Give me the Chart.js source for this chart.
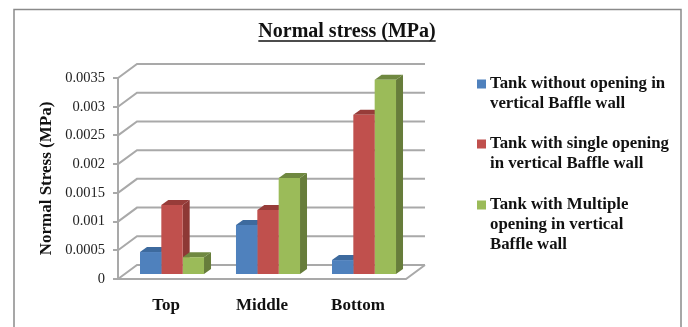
<!DOCTYPE html>
<html>
<head>
<meta charset="utf-8">
<style>
  html, body { margin: 0; padding: 0; background: #fff; }
  canvas { display: block; }
</style>
<script src="https://cdn.jsdelivr.net/npm/chart.js@4"></script>
</head>
<body>
<canvas id="stressChart" width="688" height="327"></canvas>
<script>
const categories = ["Top", "Middle", "Bottom"];
const withoutOpening = [0.0004, 0.00087, 0.00026];
const singleOpening = [0.00122, 0.00113, 0.00279];
const multipleOpening = [0.00031, 0.00169, 0.0034];
const withoutOpeningLabel = ["Tank without opening in", "vertical Baffle wall"];
const singleOpeningLabel = ["Tank with single opening", "in vertical Baffle wall"];
const multipleOpeningLabel = ["Tank with Multiple", "opening in vertical", "Baffle wall"];

const SERIF = '"Liberation Serif", "Times New Roman", serif';
const GRID = "#a9a9a9";
// wall depth of the fake 3D box, and the shift/depth of the bars inside it
const WALL = { x: 19, y: -14 };
const BAR_SHIFT = { x: 6, y: -4 };
const BAR_DEPTH = { x: 7, y: -5 };
const SIDE_COLORS = ["#3a6493", "#8e3835", "#677d3b"];
const TOP_COLORS = ["#3d6a9e", "#973c39", "#6f8840"];

function poly(ctx, pts, fill) {
  ctx.beginPath();
  pts.forEach((p, i) => (i ? ctx.lineTo(p[0], p[1]) : ctx.moveTo(p[0], p[1])));
  ctx.closePath();
  ctx.fillStyle = fill;
  ctx.fill();
}

const fake3d = {
  id: "fake3d",
  afterLayout(chart) {
    // centre the title over the whole frame, not just the plot box
    chart.titleBlock.left = 0;
    chart.titleBlock.right = 694;
  },
  beforeDraw(chart) {
    const { ctx, chartArea: a } = chart;
    // chart frame, open at the bottom like the cropped original
    ctx.save();
    ctx.strokeStyle = "#8a8a8a";
    ctx.lineWidth = 1.5;
    ctx.beginPath();
    ctx.moveTo(14, 327);
    ctx.lineTo(14, 9.5);
    ctx.lineTo(681, 9.5);
    ctx.lineTo(681, 327);
    ctx.stroke();

    // back wall lines
    ctx.strokeStyle = GRID;
    ctx.lineWidth = 2;
    chart.scales.y.ticks.forEach((t) => {
      const y = chart.scales.y.getPixelForValue(t.value);
      ctx.beginPath();
      ctx.moveTo(a.left, y);
      ctx.lineTo(a.left + WALL.x, y + WALL.y);
      ctx.lineTo(a.right + WALL.x, y + WALL.y);
      ctx.stroke();
    });
    // floor
    ctx.beginPath();
    ctx.moveTo(a.left, a.bottom);
    ctx.lineTo(a.right, a.bottom);
    ctx.lineTo(a.right + WALL.x, a.bottom + WALL.y);
    ctx.stroke();
    ctx.restore();
  },
  beforeDatasetsDraw(chart) {
    const ctx = chart.ctx;
    ctx.save();
    ctx.translate(BAR_SHIFT.x, BAR_SHIFT.y);
    // depth faces go first, left series to right, so every front face covers them
    chart.data.datasets.forEach((ds, i) => {
      chart.getDatasetMeta(i).data.forEach((bar) => {
        const l = bar.x - bar.width / 2, r = bar.x + bar.width / 2;
        const dx = BAR_DEPTH.x, dy = BAR_DEPTH.y;
        poly(ctx, [[r, bar.y], [r + dx, bar.y + dy], [r + dx, bar.base + dy], [r, bar.base]], SIDE_COLORS[i]);
        poly(ctx, [[l, bar.y], [l + dx, bar.y + dy], [r + dx, bar.y + dy], [r, bar.y]], TOP_COLORS[i]);
      });
    });
  },
  afterDatasetsDraw(chart) {
    chart.ctx.restore();
  },
  afterDraw(chart) {
    const ctx = chart.ctx;
    ctx.save();
    // title underline
    ctx.font = "bold 20px " + SERIF;
    const w = ctx.measureText(chart.options.plugins.title.text).width;
    ctx.strokeStyle = "#111";
    ctx.lineWidth = 1.5;
    ctx.beginPath();
    ctx.moveTo(347 - w / 2, 41);
    ctx.lineTo(347 + w / 2, 41);
    ctx.stroke();

    // legend with wrapped entries
    ctx.font = "bold 16.8px " + SERIF;
    ctx.textBaseline = "middle";
    const rowY = [84, 144, 205];
    chart.data.datasets.forEach((ds, i) => {
      ctx.fillStyle = ds.backgroundColor;
      ctx.fillRect(477, rowY[i] - 4.5, 9, 9);
      ctx.fillStyle = "#111";
      ds.label.forEach((line, j) => ctx.fillText(line, 490, rowY[i] + j * 20));
    });
    ctx.restore();
  },
};

new Chart(document.getElementById("stressChart"), {
  type: "bar",
  plugins: [fake3d],
  data: {
    labels: categories,
    datasets: [
      { label: withoutOpeningLabel, data: withoutOpening, backgroundColor: "#4f81bd" },
      { label: singleOpeningLabel, data: singleOpening, backgroundColor: "#c0504d" },
      { label: multipleOpeningLabel, data: multipleOpening, backgroundColor: "#9bbb59" },
    ],
  },
  options: {
    responsive: false,
    animation: false,
    clip: false,
    categoryPercentage: 0.667,
    barPercentage: 1,
    layout: { padding: { left: 0, right: 282, top: 0, bottom: 0 } },
    plugins: {
      legend: { display: false },
      tooltip: { enabled: false },
      title: {
        display: true,
        text: "Normal stress (MPa)",
        color: "#111",
        font: { family: SERIF, size: 20, weight: "bold" },
        padding: { top: 20, bottom: 34 },
      },
    },
    scales: {
      x: {
        grid: { display: false },
        border: { display: false },
        ticks: {
          color: "#111",
          font: { family: SERIF, size: 17, weight: "bold" },
          padding: 8,
          maxRotation: 0,
          autoSkip: false,
        },
        afterFit(scale) { scale.height = 48; },
      },
      y: {
        min: 0,
        max: 0.0035,
        border: { display: true, color: GRID, width: 2 },
        grid: { drawOnChartArea: false, color: GRID, lineWidth: 2, tickLength: 5 },
        ticks: {
          stepSize: 0.0005,
          color: "#222",
          padding: 8,
          font: { family: SERIF, size: 14.5 },
          callback: (v) => String(+v.toFixed(4)),
        },
        title: {
          display: true,
          text: "Normal Stress (MPa)",
          color: "#111",
          font: { family: SERIF, size: 17, weight: "bold" },
          padding: { top: 36, bottom: 0 },
        },
        afterFit(scale) { scale.width = 118; },
      },
    },
  },
});
</script>
</body>
</html>
